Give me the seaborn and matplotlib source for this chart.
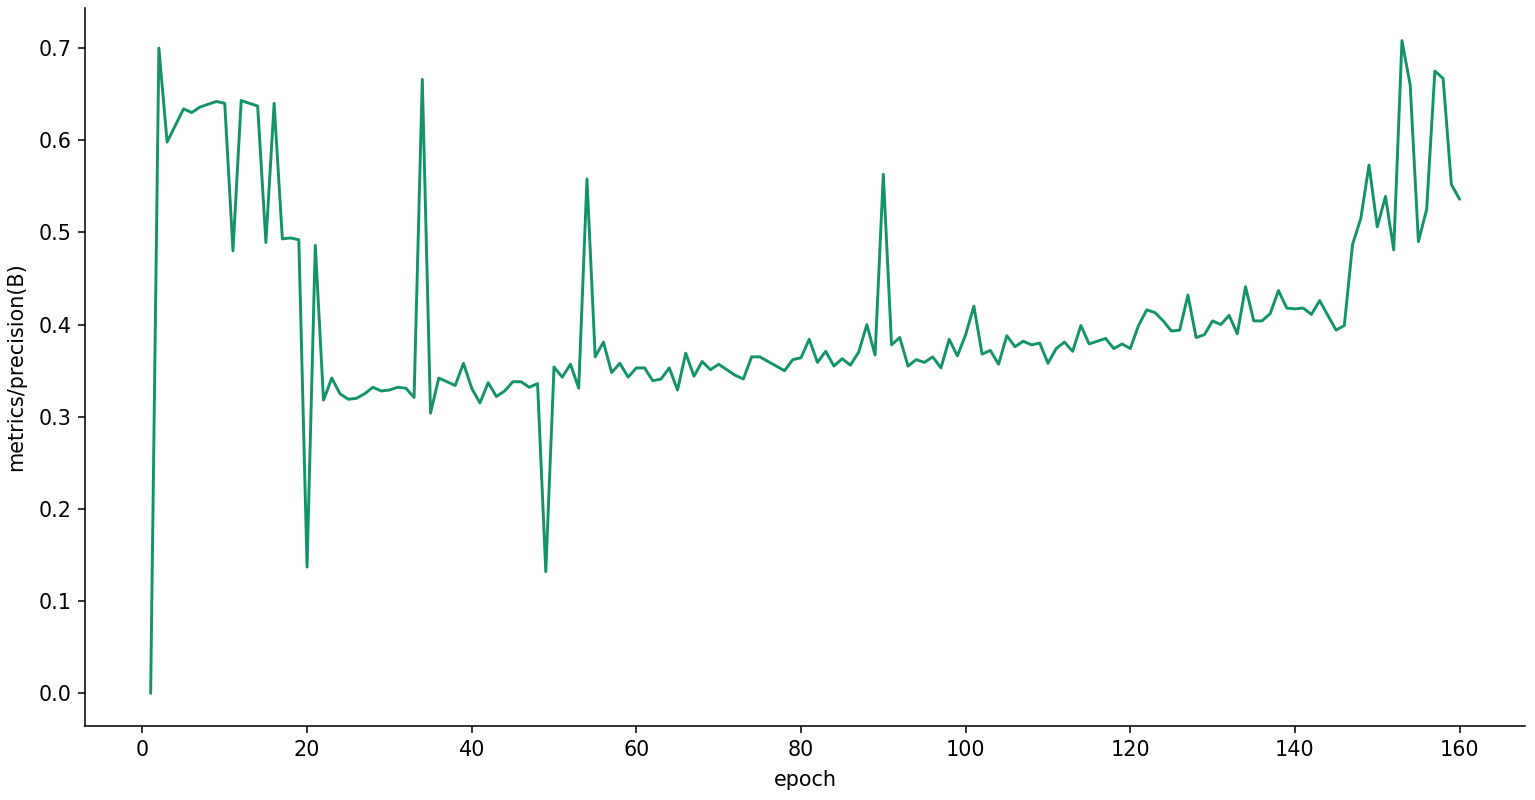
import numpy as np
import pandas as pd
import matplotlib
matplotlib.use("Agg")
import matplotlib.pyplot as plt
import seaborn as sns

epochs = list(range(1, 161))
precision = [
    0.000, 0.700, 0.598, 0.616, 0.634, 0.630, 0.636, 0.639, 0.642, 0.640,
    0.480, 0.643, 0.640, 0.637, 0.489, 0.640, 0.493, 0.494, 0.492, 0.137,
    0.486, 0.318, 0.342, 0.325, 0.319, 0.320, 0.325, 0.332, 0.328, 0.329,
    0.332, 0.331, 0.321, 0.666, 0.304, 0.342, 0.338, 0.334, 0.358, 0.331,
    0.315, 0.337, 0.322, 0.328, 0.338, 0.338, 0.332, 0.336, 0.132, 0.354,
    0.343, 0.357, 0.331, 0.558, 0.365, 0.381, 0.348, 0.358, 0.343, 0.353,
    0.353, 0.339, 0.341, 0.353, 0.329, 0.369, 0.344, 0.360, 0.351, 0.357,
    0.351, 0.345, 0.341, 0.365, 0.365, 0.360, 0.355, 0.350, 0.362, 0.364,
    0.384, 0.359, 0.371, 0.355, 0.363, 0.356, 0.370, 0.400, 0.367, 0.563,
    0.378, 0.386, 0.355, 0.362, 0.359, 0.365, 0.353, 0.384, 0.366, 0.389,
    0.420, 0.368, 0.372, 0.357, 0.388, 0.376, 0.382, 0.378, 0.380, 0.358,
    0.374, 0.381, 0.371, 0.399, 0.379, 0.382, 0.385, 0.374, 0.379, 0.374,
    0.399, 0.416, 0.413, 0.404, 0.393, 0.394, 0.432, 0.386, 0.389, 0.404,
    0.400, 0.410, 0.390, 0.441, 0.404, 0.404, 0.412, 0.437, 0.418, 0.417,
    0.418, 0.411, 0.426, 0.410, 0.394, 0.399, 0.487, 0.515, 0.573, 0.506,
    0.539, 0.481, 0.708, 0.660, 0.490, 0.525, 0.675, 0.667, 0.552, 0.536,
]

df = pd.DataFrame({"epoch": epochs, "metrics/precision(B)": precision})

sns.set_style("ticks", rc={
    "axes.edgecolor": "black", "text.color": "black",
    "xtick.color": "black", "ytick.color": "black",
    "axes.labelcolor": "black", "axes.linewidth": 0.8,
})
plt.rcParams['font.family'] = ['DejaVu Sans']
FS = 10.7

DPI = 140
fig = plt.figure(figsize=(1535 / DPI, 800 / DPI), dpi=DPI)
ax = fig.add_axes([0.0555, 0.0925, 0.938, 0.8975])
sns.lineplot(data=df, x="epoch", y="metrics/precision(B)", ax=ax,
             color="#14936a", linewidth=1.5)
ax.set_xlabel("epoch", fontsize=FS, labelpad=5.5)
ax.set_ylabel("metrics/precision(B)", fontsize=FS, labelpad=6.5)
ax.tick_params(labelsize=FS, length=3.5, width=0.8)
sns.despine(ax=ax)
fig.savefig("out.png", dpi=DPI)
